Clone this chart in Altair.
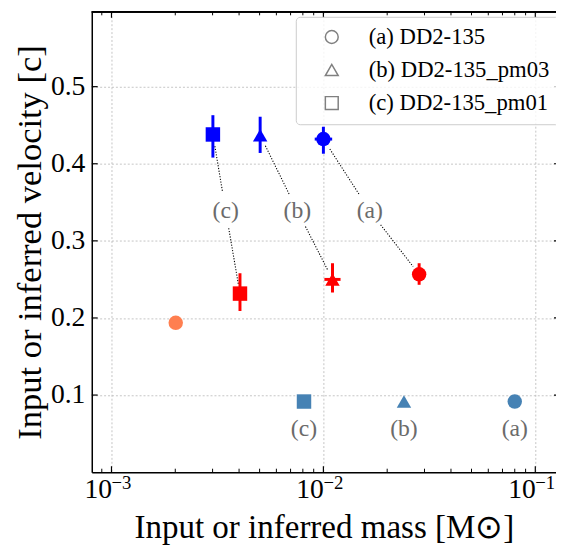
import math
import altair as alt
import pandas as pd

# ---------------- data ----------------
models = ["(a) DD2-135", "(b) DD2-135_pm03", "(c) DD2-135_pm01"]
short_labels = ["(a)", "(b)", "(c)"]
shapes = ["circle", "triangle-up", "square"]

# inferred (blue) component
blue_mass = [0.0100, 0.00503, 0.00301]
blue_vel = [0.432, 0.437, 0.438]
blue_vel_lo = [0.413, 0.414, 0.408]
blue_vel_hi = [0.448, 0.461, 0.463]
blue_mass_lo = [0.0091, None, None]
blue_mass_hi = [0.0110, None, None]

# inferred (red) component
red_mass = [0.0283, 0.01104, 0.00404]
red_vel = [0.2566, 0.250, 0.2316]
red_vel_lo = [0.243, 0.233, 0.209]
red_vel_hi = [0.271, 0.271, 0.258]
red_mass_lo = [None, 0.01011, None]
red_mass_hi = [None, 0.01205, None]

# input (steelblue) models
input_mass = [0.080, 0.024, 0.0081]
input_vel = [0.0916, 0.0916, 0.0916]
input_label_vel = [0.0557, 0.0557, 0.0557]

# extra (coral) point
extra_mass = [0.00201]
extra_vel = [0.1937]

# connector label positions
mid_label_mass = [0.01655, 0.00754, 0.00346]
mid_label_vel = [0.339, 0.339, 0.339]

# axes
x_domain = [10 ** -3.093, 10 ** -0.9023]
y_domain = [0.0, 0.597]
x_major = [1e-3, 1e-2, 1e-1]
x_major_base = ["10", "10", "10"]
x_major_exp = ["−3", "−2", "−1"]
x_minor = [9e-4, 2e-3, 3e-3, 4e-3, 5e-3, 6e-3, 7e-3, 8e-3, 9e-3,
           2e-2, 3e-2, 4e-2, 5e-2, 6e-2, 7e-2, 8e-2, 9e-2]
y_major = [0.1, 0.2, 0.3, 0.4, 0.5]

W, H = 471, 467
FONT = "Liberation Serif"

BLUE, RED, CORAL, STEEL = "#0000ff", "#ff0000", "#ff7f50", "#4682b4"

# ---------------- build tables ----------------
xs = alt.Scale(type="log", domain=x_domain, nice=False)
ys = alt.Scale(domain=y_domain, nice=False, zero=False)

pts = []
for i in range(3):
    pts.append(dict(m=blue_mass[i], v=blue_vel[i], model=models[i], c=BLUE))
    pts.append(dict(m=red_mass[i], v=red_vel[i], model=models[i], c=RED))
    pts.append(dict(m=input_mass[i], v=input_vel[i], model=models[i], c=STEEL))
pts.append(dict(m=extra_mass[0], v=extra_vel[0], model=models[0], c=CORAL))
pts_df = pd.DataFrame(pts)

verr = []
herr = []
for i in range(3):
    verr.append(dict(m=blue_mass[i], lo=blue_vel_lo[i], hi=blue_vel_hi[i], c=BLUE))
    verr.append(dict(m=red_mass[i], lo=red_vel_lo[i], hi=red_vel_hi[i], c=RED))
    if blue_mass_lo[i] is not None:
        herr.append(dict(v=blue_vel[i], lo=blue_mass_lo[i], hi=blue_mass_hi[i], c=BLUE))
    if red_mass_lo[i] is not None:
        herr.append(dict(v=red_vel[i], lo=red_mass_lo[i], hi=red_mass_hi[i], c=RED))
verr_df = pd.DataFrame(verr)
herr_df = pd.DataFrame(herr)

# connector segments, trimmed in pixel space
ppd = W / (math.log10(x_domain[1]) - math.log10(x_domain[0]))
ppy = H / (y_domain[1] - y_domain[0])


def to_px(m, v):
    return math.log10(m) * ppd, -v * ppy


def to_data(u, w):
    return 10 ** (u / ppd), -w / ppy


def segment(p, q, tp, tq):
    (u1, w1), (u2, w2) = to_px(*p), to_px(*q)
    d = math.hypot(u2 - u1, w2 - w1)
    du, dw = (u2 - u1) / d, (w2 - w1) / d
    a = to_data(u1 + du * tp, w1 + dw * tp)
    b = to_data(u2 - du * tq, w2 - dw * tq)
    return dict(x1=a[0], y1=a[1], x2=b[0], y2=b[1])


segs = []
for i in range(3):
    lab = (mid_label_mass[i], mid_label_vel[i])
    segs.append(segment((blue_mass[i], blue_vel[i]), lab, 12, 19))
    segs.append(segment(lab, (red_mass[i], red_vel[i]), 18, 10))
seg_df = pd.DataFrame(segs)

mid_df = pd.DataFrame(dict(m=mid_label_mass, v=mid_label_vel, t=short_labels))
inp_lab_df = pd.DataFrame(dict(m=input_mass, v=input_label_vel, t=short_labels))
xmaj_df = pd.DataFrame(dict(m=x_major, base=x_major_base, exp=x_major_exp))
xmin_df = pd.DataFrame(dict(m=x_minor))
ymaj_df = pd.DataFrame(dict(v=y_major))

# ---------------- layers ----------------
base_x_axis = alt.Axis(
    values=x_major, labelExpr="'10'", title="Input or inferred mass [M⊙]",
    grid=True, gridDash=[2, 2], gridColor="#b5b5b5", gridWidth=0.8,
    ticks=False, domainColor="black", domainWidth=1.5,
    labelFont=FONT, labelFontSize=28, labelColor="black", labelPadding=4,
    labelAlign="right", labelBaseline="top",
    labelFlush=False, labelOverlap=False,
    titleFont=FONT, titleFontSize=33.5, titleFontWeight="normal", titleColor="black",
    titlePadding=8,
)
base_y_axis = alt.Axis(
    values=y_major, format=".1f", title="Input or inferred velocity [c]",
    grid=True, gridDash=[2, 2], gridColor="#b5b5b5", gridWidth=0.8,
    ticks=False, domainColor="black", domainWidth=1.5,
    labelFont=FONT, labelFontSize=28, labelColor="black", labelPadding=7,
    labelFlush=False, labelOverlap=False,
    titleFont=FONT, titleFontSize=35, titleFontWeight="normal", titleColor="black",
    titlePadding=3,
)

connectors = alt.Chart(seg_df).mark_rule(
    color="black", strokeWidth=1.1, strokeDash=[1.2, 1.6]
).encode(
    x=alt.X("x1:Q", scale=xs, axis=base_x_axis),
    y=alt.Y("y1:Q", scale=ys, axis=base_y_axis),
    x2="x2:Q", y2="y2:Q",
)

vbars = alt.Chart(verr_df).mark_rule(strokeWidth=3).encode(
    x=alt.X("m:Q", scale=xs), y=alt.Y("lo:Q", scale=ys), y2="hi:Q",
    color=alt.Color("c:N", scale=None),
)
hbars = alt.Chart(herr_df).mark_rule(strokeWidth=3).encode(
    x=alt.X("lo:Q", scale=xs), x2="hi:Q", y=alt.Y("v:Q", scale=ys),
    color=alt.Color("c:N", scale=None),
)

points = alt.Chart(pts_df).mark_point(filled=True, opacity=1, size=215).encode(
    x=alt.X("m:Q", scale=xs), y=alt.Y("v:Q", scale=ys),
    shape=alt.Shape(
        "model:N",
        scale=alt.Scale(domain=models, range=shapes),
        legend=alt.Legend(
            orient="none", legendX=207, legendY=5, title=None,
            labelFont=FONT, labelFontSize=23, labelColor="black",
            symbolSize=170, symbolStrokeColor="#808080", symbolFillColor="transparent",
            symbolStrokeWidth=1.5, symbolOffset=16, labelOffset=26,
            rowPadding=9.5, padding=9, cornerRadius=4,
            fillColor="rgba(255,255,255,0.8)", strokeColor="#cccccc",
            labelLimit=400,
        ),
    ),
    color=alt.Color("c:N", scale=None),
)

mid_text = alt.Chart(mid_df).mark_text(
    font=FONT, fontSize=24, color="#6b6b6b", baseline="middle", align="center"
).encode(x=alt.X("m:Q", scale=xs), y=alt.Y("v:Q", scale=ys), text="t:N")
inp_text = alt.Chart(inp_lab_df).mark_text(
    font=FONT, fontSize=24, color="#6b6b6b", baseline="middle", align="center"
).encode(x=alt.X("m:Q", scale=xs), y=alt.Y("v:Q", scale=ys), text="t:N")

# superscript exponents of the x tick labels
x_exp = alt.Chart(xmaj_df).mark_text(
    font=FONT, fontSize=19, color="black", baseline="top", align="left", dx=0
).encode(x=alt.X("m:Q", scale=xs), y=alt.value(H + 2.5), text="exp:N")

# inward ticks
tick_col = "black"
xt_bot_maj = alt.Chart(xmaj_df).mark_rule(color=tick_col, strokeWidth=1.2).encode(
    x=alt.X("m:Q", scale=xs), y=alt.value(H), y2=alt.value(H - 6))
xt_top_maj = alt.Chart(xmaj_df).mark_rule(color=tick_col, strokeWidth=1.2).encode(
    x=alt.X("m:Q", scale=xs), y=alt.value(0), y2=alt.value(6))
xt_bot_min = alt.Chart(xmin_df).mark_rule(color=tick_col, strokeWidth=1).encode(
    x=alt.X("m:Q", scale=xs), y=alt.value(H), y2=alt.value(H - 3.5))
xt_top_min = alt.Chart(xmin_df).mark_rule(color=tick_col, strokeWidth=1).encode(
    x=alt.X("m:Q", scale=xs), y=alt.value(0), y2=alt.value(3.5))
yt_left = alt.Chart(ymaj_df).mark_rule(color=tick_col, strokeWidth=1.2).encode(
    y=alt.Y("v:Q", scale=ys), x=alt.value(0), x2=alt.value(6))
yt_right = alt.Chart(ymaj_df).mark_rule(color=tick_col, strokeWidth=1.2).encode(
    y=alt.Y("v:Q", scale=ys), x=alt.value(W - 2), x2=alt.value(W))
top_spine = alt.Chart(ymaj_df).mark_rule(color="black", strokeWidth=1.5).encode(
    x=alt.value(0), x2=alt.value(W + 5), y=alt.value(0))

chart = alt.layer(
    connectors, vbars, hbars, points, mid_text, inp_text, x_exp,
    xt_bot_maj, xt_top_maj, xt_bot_min, xt_top_min, yt_left, yt_right, top_spine,
).properties(
    width=W, height=H,
    autosize=alt.AutoSizeParams(type="none"),
    padding={"left": 85, "top": 0, "right": 0, "bottom": 72},
).configure_view(stroke=None).configure(background="white").configure_axis(
    labelFont=FONT, titleFont=FONT
).configure_legend(labelFont=FONT)

chart.save("out.html", embed_options={"renderer": "svg", "actions": False})
